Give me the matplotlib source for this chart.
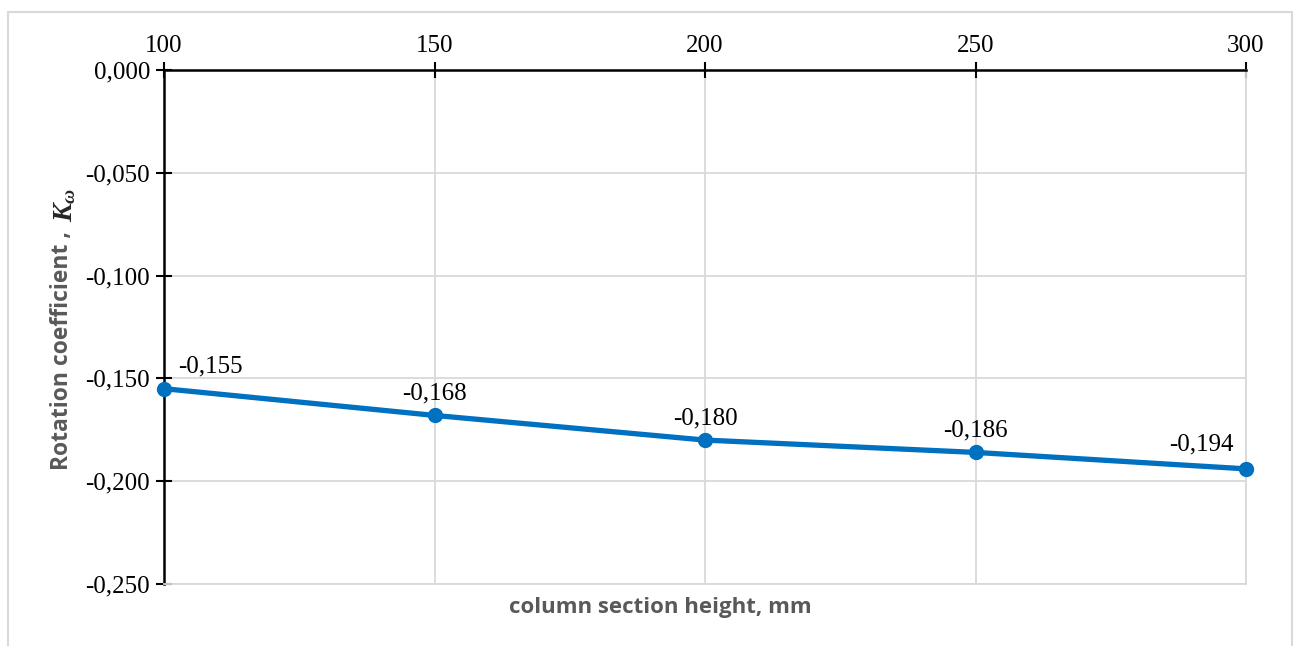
import numpy as np
import matplotlib.pyplot as plt
from matplotlib.patches import Rectangle

heights = [100, 150, 200, 250, 300]
kw = [-0.155, -0.168, -0.180, -0.186, -0.194]
yticks = [0.0, -0.05, -0.10, -0.15, -0.20, -0.25]

serif = ['Liberation Serif', 'DejaVu Serif']
sans = ['Open Sans', 'DejaVu Sans']
grey = '#595959'

plt.rcParams['mathtext.fontset'] = 'custom'
plt.rcParams['mathtext.it'] = 'Liberation Serif:italic:bold'
plt.rcParams['mathtext.rm'] = 'Liberation Serif:bold'

fig = plt.figure(figsize=(12.99, 6.46), dpi=100)
W, H = 1299, 646
ax = fig.add_axes([164/W, 1-584/H, (1246-164)/W, (584-70)/H])

# outer chart border
fig.patches.append(Rectangle((8/W, -0.01), (1292-8)/W, 1-12/H+0.01,
                             transform=fig.transFigure, fill=False,
                             edgecolor='#d9d9d9', lw=1.5))

ax.plot(heights, kw, color='#0070c0', lw=3.8, marker='o', ms=10, zorder=5,
        clip_on=False, solid_capstyle='round')

ax.set_xlim(100, 300)
ax.set_ylim(-0.25, 0.0)
ax.set_xticks(heights)
ax.set_yticks(yticks)
ax.set_yticklabels([f"{v:.3f}".replace('.', ',') for v in yticks],
                   fontfamily=serif, fontsize=18)
ax.set_xticklabels([str(h) for h in heights], fontfamily=serif, fontsize=18)
ax.xaxis.tick_top()
ax.tick_params(axis='both', direction='inout', length=12, width=1.5, colors='black')
ax.tick_params(axis='x', pad=3)
ax.tick_params(axis='y', pad=4)

ax.grid(True, color='#d9d9d9', lw=1.3)
ax.set_axisbelow(True)
for s in ['right', 'bottom']:
    ax.spines[s].set_color('#d9d9d9')
    ax.spines[s].set_linewidth(1.3)
ax.spines['top'].set_linewidth(1.8)
ax.spines['left'].set_linewidth(1.8)

# data labels
for i, (x, y) in enumerate(zip(heights, kw)):
    txt = f"{y:.3f}".replace('.', ',')
    if i == 0:
        ax.annotate(txt, (x, y), xytext=(10, 8), textcoords='offset points',
                    ha='left', va='bottom', fontfamily=serif, fontsize=18)
    elif i == len(heights) - 1:
        ax.annotate(txt, (x, y), xytext=(-9, 10), textcoords='offset points',
                    ha='right', va='bottom', fontfamily=serif, fontsize=18)
    else:
        ax.annotate(txt, (x, y), xytext=(0, 8), textcoords='offset points',
                    ha='center', va='bottom', fontfamily=serif, fontsize=18)

fig.text(660/W, 1-607/H, 'column section height, mm', ha='center', va='center',
         fontfamily=sans, fontweight='bold', fontsize=16, color=grey)
fig.text(62/W, 1-470/H, 'Rotation coefficient ,',
         rotation=90, ha='center', va='bottom',
         fontfamily=sans, fontweight='bold', fontsize=16.5, color=grey)
fig.text(64/W, 1-222/H, r'$K_\omega$',
         rotation=90, ha='center', va='bottom', fontsize=20, color='#262626')

fig.savefig('out.png', dpi=100)
